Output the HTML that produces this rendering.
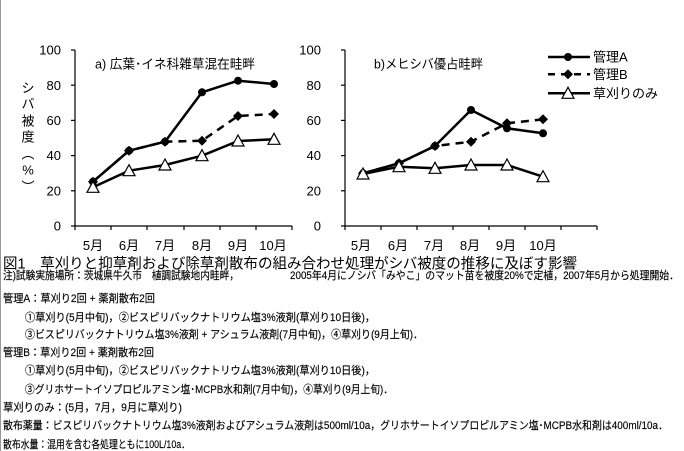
<!DOCTYPE html>
<html><head><meta charset="utf-8">
<style>
html,body{margin:0;padding:0;background:#fff;}
svg{display:block;}
text{font-family:"Liberation Sans","Noto Sans CJK JP",sans-serif;fill:#000;}
</style></head>
<body>
<svg width="684" height="451" viewBox="0 0 684 451" xmlns="http://www.w3.org/2000/svg">
<rect x="0" y="0" width="684" height="451" fill="#fff"/>
<line x1="0.5" y1="0" x2="0.5" y2="451" stroke="#999" stroke-width="1"/>

<!-- ===== Chart a ===== -->
<g stroke="#000" stroke-width="1.2" fill="none">
  <line x1="75" y1="50" x2="75" y2="226"/>
  <line x1="75" y1="226" x2="292" y2="226"/>
  <line x1="71" y1="50" x2="75" y2="50"/>
  <line x1="71" y1="85.2" x2="75" y2="85.2"/>
  <line x1="71" y1="120.4" x2="75" y2="120.4"/>
  <line x1="71" y1="155.6" x2="75" y2="155.6"/>
  <line x1="71" y1="190.8" x2="75" y2="190.8"/>
  <line x1="71" y1="226" x2="75" y2="226"/>
  <line x1="75" y1="226" x2="75" y2="230"/>
  <line x1="111" y1="226" x2="111" y2="230"/>
  <line x1="147" y1="226" x2="147" y2="230"/>
  <line x1="184" y1="226" x2="184" y2="230"/>
  <line x1="220" y1="226" x2="220" y2="230"/>
  <line x1="256" y1="226" x2="256" y2="230"/>
  <line x1="292" y1="226" x2="292" y2="230"/>
</g>
<g font-size="13" text-anchor="end">
  <text x="61" y="54.6">100</text>
  <text x="61" y="89.8">80</text>
  <text x="61" y="125">60</text>
  <text x="61" y="160.2">40</text>
  <text x="61" y="195.4">20</text>
  <text x="61" y="230.6">0</text>
</g>
<g font-size="13" text-anchor="middle">
  <text x="93" y="250">5月</text>
  <text x="129" y="250">6月</text>
  <text x="165" y="250">7月</text>
  <text x="202" y="250">8月</text>
  <text x="238" y="250">9月</text>
  <text x="273" y="250">10月</text>
</g>
<g font-size="13" text-anchor="middle">
  <text x="28" y="92.5">シ</text>
  <text x="28" y="108.5">バ</text>
  <text x="28" y="125.5">被</text>
  <text x="28" y="141.5">度</text>
  <text x="28" y="158.5">︵</text>
  <text x="28" y="174.5">%</text>
  <text x="28" y="191.5">︶</text>
</g>
<text x="95" y="68.5" font-size="13" textLength="160" lengthAdjust="spacingAndGlyphs">a) 広葉･イネ科雑草混在畦畔</text>

<!-- series a -->
<polyline points="93,181.7 129,150.7 165,141.7 202,92.3 238,80.7 274,84" fill="none" stroke="#000" stroke-width="2.5" stroke-linejoin="round"/>
<polyline points="93,181.7 129,150.7 165,141.7 202,140.7 238,116 274,114" fill="none" stroke="#000" stroke-width="2.5" stroke-dasharray="8 6"/>
<polyline points="93,187.3 129,170.7 165,165 202,155.7 238,141 274,139.3" fill="none" stroke="#000" stroke-width="2.5" stroke-linejoin="round"/>
<g fill="#000">
  <circle cx="93" cy="181.7" r="4"/><circle cx="129" cy="150.7" r="4"/><circle cx="165" cy="141.7" r="4"/>
  <circle cx="202" cy="92.3" r="4"/><circle cx="238" cy="80.7" r="4"/><circle cx="274" cy="84" r="4"/>
  <polygon points="93,176.7 98,181.7 93,186.7 88,181.7"/>
  <polygon points="129,145.7 134,150.7 129,155.7 124,150.7"/>
  <polygon points="165,136.7 170,141.7 165,146.7 160,141.7"/>
  <polygon points="202,135.7 207,140.7 202,145.7 197,140.7"/>
  <polygon points="238,111 243,116 238,121 233,116"/>
  <polygon points="274,109 279,114 274,119 269,114"/>
</g>
<g fill="#fff" stroke="#000" stroke-width="1.2">
  <polygon points="93,181.3 87,192.3 99,192.3"/>
  <polygon points="129,164.7 123,175.7 135,175.7"/>
  <polygon points="165,159 159,170 171,170"/>
  <polygon points="202,149.7 196,160.7 208,160.7"/>
  <polygon points="238,135 232,146 244,146"/>
  <polygon points="274,133.3 268,144.3 280,144.3"/>
</g>

<!-- ===== Chart b ===== -->
<g stroke="#000" stroke-width="1.2" fill="none">
  <line x1="345" y1="50" x2="345" y2="226"/>
  <line x1="345" y1="226" x2="597" y2="226"/>
  <line x1="341" y1="50" x2="345" y2="50"/>
  <line x1="341" y1="85.2" x2="345" y2="85.2"/>
  <line x1="341" y1="120.4" x2="345" y2="120.4"/>
  <line x1="341" y1="155.6" x2="345" y2="155.6"/>
  <line x1="341" y1="190.8" x2="345" y2="190.8"/>
  <line x1="341" y1="226" x2="345" y2="226"/>
  <line x1="345" y1="226" x2="345" y2="230"/>
  <line x1="381" y1="226" x2="381" y2="230"/>
  <line x1="417" y1="226" x2="417" y2="230"/>
  <line x1="453" y1="226" x2="453" y2="230"/>
  <line x1="489" y1="226" x2="489" y2="230"/>
  <line x1="525" y1="226" x2="525" y2="230"/>
  <line x1="561" y1="226" x2="561" y2="230"/>
  <line x1="597" y1="226" x2="597" y2="230"/>
</g>
<g font-size="13" text-anchor="end">
  <text x="321" y="54.6">100</text>
  <text x="321" y="89.8">80</text>
  <text x="321" y="125">60</text>
  <text x="321" y="160.2">40</text>
  <text x="321" y="195.4">20</text>
  <text x="321" y="230.6">0</text>
</g>
<g font-size="13" text-anchor="middle">
  <text x="361" y="250">5月</text>
  <text x="398" y="250">6月</text>
  <text x="434" y="250">7月</text>
  <text x="470" y="250">8月</text>
  <text x="506" y="250">9月</text>
  <text x="543" y="250">10月</text>
</g>
<text x="374" y="68.5" font-size="13" textLength="109" lengthAdjust="spacingAndGlyphs">b)メヒシバ優占畦畔</text>

<polyline points="363,173.3 399,163.3 435,146 471,110 507,128.3 543,133.3" fill="none" stroke="#000" stroke-width="2.5" stroke-linejoin="round"/>
<polyline points="363,173.3 399,163.3 435,146 471,141.7 507,123.3 543,119.3" fill="none" stroke="#000" stroke-width="2.5" stroke-dasharray="8 6"/>
<polyline points="363,174 399,166.7 435,168.3 471,165 507,165 543,176.7" fill="none" stroke="#000" stroke-width="2.5" stroke-linejoin="round"/>
<g fill="#000">
  <circle cx="363" cy="173.3" r="4"/><circle cx="399" cy="163.3" r="4"/><circle cx="435" cy="146" r="4"/>
  <circle cx="471" cy="110" r="4"/><circle cx="507" cy="128.3" r="4"/><circle cx="543" cy="133.3" r="4"/>
  <polygon points="363,168.3 368,173.3 363,178.3 358,173.3"/>
  <polygon points="399,158.3 404,163.3 399,168.3 394,163.3"/>
  <polygon points="435,141 440,146 435,151 430,146"/>
  <polygon points="471,136.7 476,141.7 471,146.7 466,141.7"/>
  <polygon points="507,118.3 512,123.3 507,128.3 502,123.3"/>
  <polygon points="543,114.3 548,119.3 543,124.3 538,119.3"/>
</g>
<g fill="#fff" stroke="#000" stroke-width="1.2">
  <polygon points="363,168 357,179 369,179"/>
  <polygon points="399,160.7 393,171.7 405,171.7"/>
  <polygon points="435,162.3 429,173.3 441,173.3"/>
  <polygon points="471,159 465,170 477,170"/>
  <polygon points="507,159 501,170 513,170"/>
  <polygon points="543,170.7 537,181.7 549,181.7"/>
</g>

<!-- legend -->
<line x1="548" y1="57" x2="590" y2="57" stroke="#000" stroke-width="2.5"/>
<circle cx="568" cy="57" r="4" fill="#000"/>
<text x="593" y="61.6" font-size="13">管理A</text>
<line x1="548" y1="74.3" x2="590" y2="74.3" stroke="#000" stroke-width="2.5" stroke-dasharray="7 6"/>
<polygon points="568,69.3 573,74.3 568,79.3 563,74.3" fill="#000"/>
<text x="593" y="78.9" font-size="13">管理B</text>
<line x1="548" y1="93.3" x2="590" y2="93.3" stroke="#000" stroke-width="2.5"/>
<polygon points="568,87.3 562,98.3 574,98.3" fill="#fff" stroke="#000" stroke-width="1.2"/>
<text x="593" y="97.9" font-size="13">草刈りのみ</text>

<!-- caption -->
<text x="3" y="268.6" font-size="14.5" textLength="574" lengthAdjust="spacingAndGlyphs">図1　草刈りと抑草剤および除草剤散布の組み合わせ処理がシバ被度の推移に及ぼす影響</text>

<g font-size="11" stroke="#000" stroke-width="0.15">
  <text x="3" y="279" textLength="236" lengthAdjust="spacingAndGlyphs">注)試験実施場所：茨城県牛久市　植調試験地内畦畔，</text>
  <text x="290" y="279" textLength="389" lengthAdjust="spacingAndGlyphs">2005年4月にノシバ「みやこ」のマット苗を被度20%で定植，2007年5月から処理開始．</text>
  <text x="3" y="302" textLength="152" lengthAdjust="spacingAndGlyphs">管理A：草刈り2回 + 薬剤散布2回</text>
  <text x="25" y="321" textLength="350" lengthAdjust="spacingAndGlyphs">①草刈り(5月中旬)，②ビスピリバックナトリウム塩3%液剤(草刈り10日後)，</text>
  <text x="25" y="338" textLength="398" lengthAdjust="spacingAndGlyphs">③ビスピリバックナトリウム塩3%液剤 + アシュラム液剤(7月中旬)，④草刈り(9月上旬)．</text>
  <text x="3" y="356" textLength="151" lengthAdjust="spacingAndGlyphs">管理B：草刈り2回 + 薬剤散布2回</text>
  <text x="25" y="374" textLength="350" lengthAdjust="spacingAndGlyphs">①草刈り(5月中旬)，②ビスピリバックナトリウム塩3%液剤(草刈り10日後)，</text>
  <text x="25" y="393" textLength="368" lengthAdjust="spacingAndGlyphs">③グリホサートイソプロピルアミン塩･MCPB水和剤(7月中旬)，④草刈り(9月上旬)．</text>
  <text x="3" y="411" textLength="179" lengthAdjust="spacingAndGlyphs">草刈りのみ：(5月，7月，9月に草刈り)</text>
  <text x="3" y="429" textLength="665" lengthAdjust="spacingAndGlyphs">散布薬量：ビスピリバックナトリウム塩3%液剤およびアシュラム液剤は500ml/10a，グリホサートイソプロピルアミン塩･MCPB水和剤は400ml/10a．</text>
  <text x="3" y="448" textLength="187" lengthAdjust="spacingAndGlyphs">散布水量：混用を含む各処理ともに100L/10a．</text>
</g>
</svg>
</body></html>
